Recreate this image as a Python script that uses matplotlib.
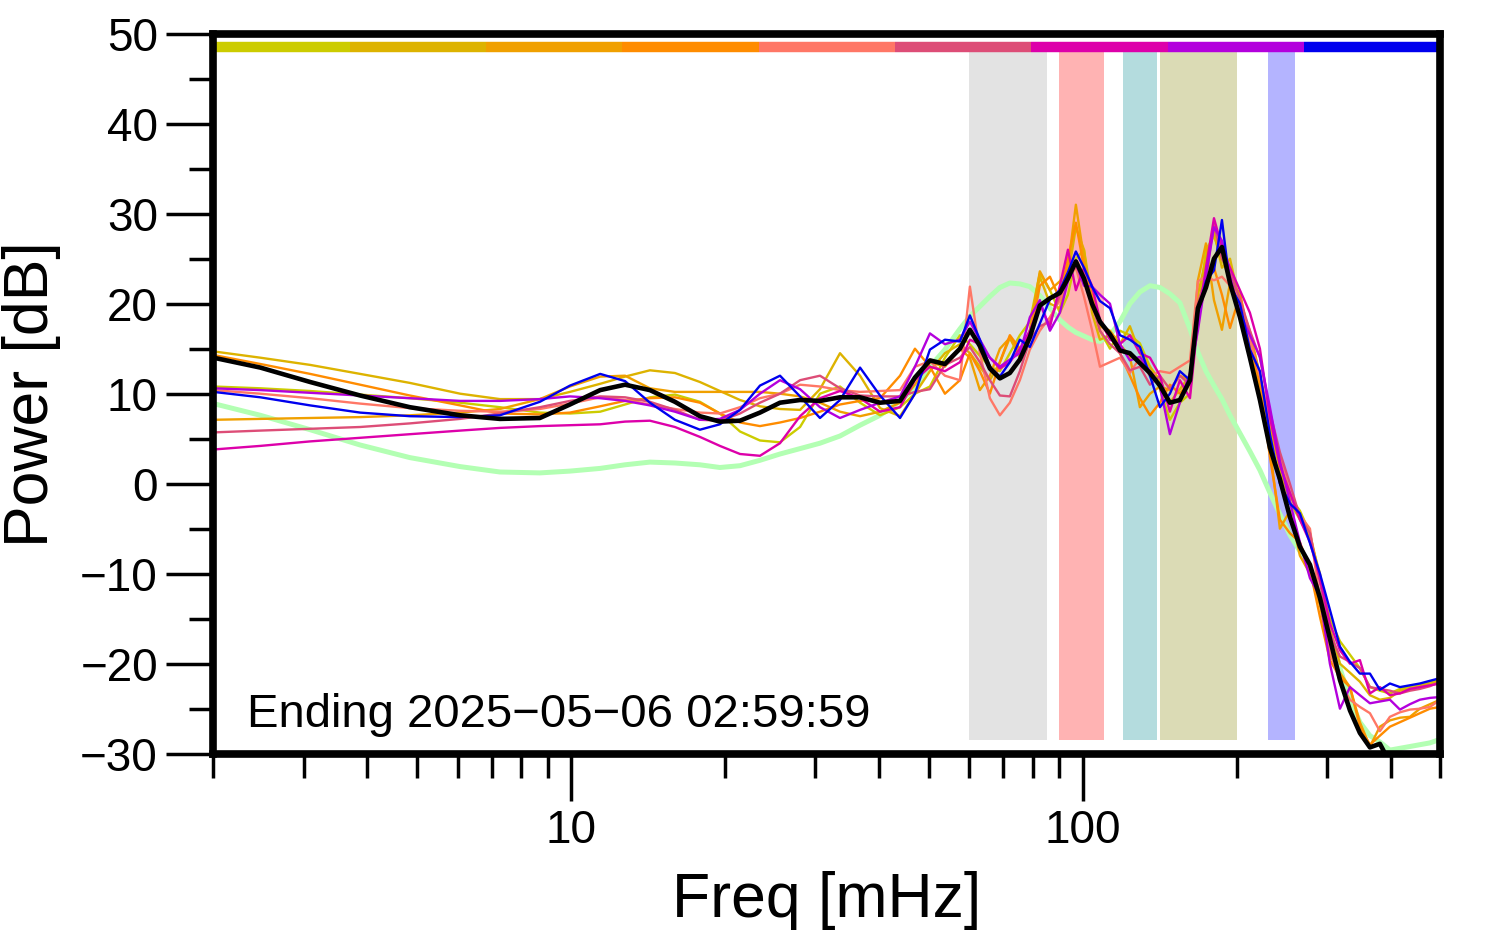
import matplotlib
matplotlib.use("Agg")
import matplotlib.pyplot as plt
from matplotlib.ticker import FixedLocator, FixedFormatter, NullFormatter, MultipleLocator

plt.rcParams['font.family'] = ['Liberation Sans', 'DejaVu Sans']

# ---------------- data ----------------
freq_mhz = [2.0, 2.47, 3.09, 3.87, 4.84, 6.07, 7.26, 8.69, 9.95, 11.4,
            12.75, 14.26, 15.96, 17.86, 19.54, 21.39, 23.4, 25.61, 28.03, 30.66,
            33.55, 36.72, 40.17, 43.96, 47.01, 50.29, 53.8, 57.56, 60.2, 62.97,
            65.87, 68.9, 72.06, 75.38, 78.86, 82.48, 86.31, 90.27, 93.6, 97.0,
            100.6, 104.3, 108.1, 113.1, 118.3, 123.7, 129.4, 135.4, 141.6, 148.1,
            154.9, 162.1, 168.0, 174.2, 180.6, 187.2, 194.1, 203.0, 212.3, 222.1,
            232.3, 243.0, 254.2, 265.9, 278.2, 291.0, 304.3, 318.4, 333.1, 348.3,
            364.4, 381.1, 398.7, 417.1, 436.3, 456.3, 477.4, 500.0]

period_colors = ['#cccc00', '#ddb300', '#f0a000', '#ff8c00', '#ff7766',
                 '#dd4d77', '#dd00aa', '#b300dd', '#0000ee']

power_p1 = [10.8, 10.6, 10.3, 9.9, 9.5, 9.0, 8.5, 7.9, 7.8, 8.0,
            8.8, 9.6, 9.9, 9.1, 7.8, 5.8, 4.8, 4.6, 6.3, 10.0,
            10.8, 9.0, 7.6, 8.5, 10.0, 10.8, 14.0, 16.5, 15.5, 14.2,
            13.0, 12.5, 14.5, 16.5, 18.0, 23.4, 21.5, 19.0, 21.0, 25.0,
            26.0, 20.5, 17.0, 15.0, 17.0, 16.5, 15.6, 13.0, 10.5, 7.1,
            9.0, 10.0, 18.5, 26.0, 27.5, 25.0, 22.6, 20.8, 15.2, 10.0,
            6.0, 2.0, -1.5, -3.0, -5.5, -10.5, -15.0, -17.5, -19.0, -20.5,
            -22.6, -23.0, -23.3, -22.8, -22.6, -22.4, -22.0, -21.8]
power_p2 = [14.7, 14.0, 13.2, 12.2, 11.2, 10.0, 9.4, 9.4, 10.2, 11.1,
            11.9, 12.6, 12.3, 11.3, 10.3, 9.3, 8.6, 8.3, 8.2, 10.5,
            14.5, 12.0, 8.4, 7.5, 10.0, 12.5, 14.5, 15.5, 14.5, 13.0,
            11.5, 13.5, 16.2, 14.0, 17.0, 23.0, 20.0, 19.5, 23.0, 28.5,
            26.0, 19.0, 16.0, 16.5, 15.5, 17.5, 14.5, 13.0, 11.5, 9.0,
            10.5, 12.0, 21.0, 25.0, 28.0, 24.0, 25.0, 20.0, 17.0, 12.0,
            6.5, 1.5, -2.0, -4.0, -6.0, -10.0, -16.0, -20.0, -21.0, -22.0,
            -23.5, -24.0, -23.8, -23.0, -22.8, -22.5, -22.2, -21.9]
power_p3 = [7.1, 7.2, 7.3, 7.4, 7.6, 7.9, 8.3, 9.4, 10.8, 11.9,
            12.0, 10.6, 10.2, 10.2, 10.2, 10.2, 10.2, 10.0, 9.7, 9.0,
            8.0, 7.5, 8.0, 9.0, 11.0, 13.5, 13.0, 15.0, 14.0, 10.4,
            12.0, 15.0, 16.2, 14.5, 17.0, 23.6, 21.5, 22.5, 24.0, 31.0,
            25.0, 19.7, 17.5, 17.0, 15.5, 14.1, 8.5, 10.0, 10.8, 10.4,
            12.0, 11.5, 22.6, 26.7, 20.4, 17.1, 22.3, 21.2, 16.0, 12.3,
            4.0, -5.0, -3.0, -8.0, -10.0, -13.5, -19.0, -21.0, -22.6, -26.5,
            -29.2, -27.0, -26.3, -26.0, -25.9, -25.0, -24.5, -24.0]
power_p4 = [14.3, 13.3, 12.2, 11.0, 9.8, 8.7, 7.8, 7.7, 7.9, 8.6,
            9.2, 9.5, 9.6, 9.0, 7.8, 6.8, 6.4, 6.8, 7.3, 8.0,
            8.8, 9.2, 9.5, 12.0, 15.0, 13.0, 10.0, 11.5, 14.5, 12.5,
            10.0, 13.5, 16.5, 15.0, 16.0, 22.0, 23.0, 20.5, 25.0, 29.0,
            24.0, 21.0, 18.0, 16.5, 14.5, 12.0, 9.5, 7.6, 9.0, 11.0,
            10.0, 11.5, 20.0, 22.0, 24.0, 21.0, 17.3, 21.0, 15.5, 11.0,
            3.0, -4.0, -5.5, -6.5, -9.5, -14.8, -19.6, -21.5, -22.6, -27.0,
            -29.0, -28.0, -27.0, -26.5, -26.0, -25.5, -25.0, -24.8]
power_p5 = [10.4, 10.0, 9.5, 8.9, 8.4, 8.1, 8.0, 8.3, 8.9, 9.6,
            9.3, 8.8, 8.3, 7.9, 7.8, 8.5, 9.5, 10.0, 11.0, 10.8,
            10.4, 10.2, 10.3, 10.4, 13.0, 13.6, 12.0, 11.5, 21.9, 14.5,
            9.5, 7.6, 9.0, 11.5, 14.9, 17.0, 18.5, 20.4, 23.0, 24.0,
            20.8, 17.1, 13.0, 13.5, 14.0, 12.3, 14.0, 11.9, 12.5, 12.3,
            13.0, 13.7, 22.5, 23.0, 22.6, 23.0, 22.0, 20.5, 16.0, 12.0,
            7.0, 3.0, -1.0, -3.5, -5.0, -13.0, -18.5, -22.0, -24.0, -24.8,
            -25.5, -27.5, -25.9, -25.4, -25.1, -25.0, -24.8, -24.0]
power_p6 = [5.7, 5.9, 6.1, 6.3, 6.7, 7.2, 7.8, 8.5, 9.2, 9.7,
            9.6, 9.1, 8.2, 7.1, 7.0, 7.8, 9.0, 10.0, 11.5, 12.0,
            10.6, 9.8, 9.7, 9.7, 10.2, 10.5, 13.2, 14.0, 15.2, 13.5,
            11.5, 9.8, 9.7, 12.5, 16.0, 17.5, 18.0, 21.0, 23.4, 24.0,
            23.5, 20.0, 17.0, 15.5, 14.5, 12.6, 13.0, 11.0, 12.0, 10.5,
            12.0, 11.0, 20.0, 23.0, 28.9, 25.0, 23.5, 20.5, 17.0, 14.0,
            8.0, 3.5, 0.0, -3.7, -5.5, -11.0, -16.6, -19.2, -19.8, -20.5,
            -22.6, -22.8, -23.0, -23.3, -23.0, -22.8, -22.5, -22.0]
power_p7 = [3.8, 4.2, 4.7, 5.1, 5.5, 5.9, 6.2, 6.4, 6.5, 6.6,
            6.9, 7.0, 6.3, 5.2, 4.2, 3.3, 3.1, 4.5, 7.5, 9.5,
            10.3, 9.5, 8.0, 8.5, 11.5, 13.0, 12.5, 13.5, 16.0, 15.5,
            14.0, 12.8, 13.5, 15.0, 17.0, 20.0, 17.4, 22.0, 26.0, 21.5,
            24.0, 22.0, 18.2, 16.0, 15.5, 16.5, 14.5, 14.0, 12.0, 8.0,
            11.5, 9.5, 18.0, 24.0, 29.5, 26.3, 24.0, 21.5, 19.0, 15.0,
            7.4, 2.0, -1.0, -4.0, -6.5, -10.5, -15.5, -18.5, -20.0, -19.6,
            -23.3, -22.6, -23.5, -23.3, -22.8, -22.6, -22.4, -22.2]
power_p8 = [10.6, 10.4, 10.1, 9.8, 9.5, 9.2, 9.2, 9.4, 9.7, 9.5,
            9.2, 8.7, 8.0, 7.1, 7.2, 8.2, 10.0, 11.5, 10.5, 8.5,
            7.3, 8.2, 9.0, 9.7, 13.0, 16.7, 15.5, 16.0, 18.0, 16.0,
            14.0, 13.0, 13.8, 14.5, 18.5, 20.4, 17.0, 19.0, 22.5, 24.5,
            22.0, 21.9, 21.0, 20.0, 15.5, 13.7, 14.1, 12.5, 10.8, 5.5,
            9.0, 12.3, 17.0, 23.0, 28.5, 27.0, 23.0, 19.0, 16.5, 14.1,
            8.5, 2.5, -2.0, -6.5, -10.5, -12.5, -20.0, -25.0, -22.6, -23.5,
            -24.4, -24.2, -24.0, -25.1, -24.5, -24.0, -23.8, -23.7]
power_p9 = [10.2, 9.6, 8.7, 7.9, 7.5, 7.4, 7.6, 9.1, 10.9, 12.2,
            11.4, 9.0, 7.1, 6.0, 6.6, 8.2, 10.9, 12.0, 9.7, 7.3,
            9.3, 12.9, 9.8, 7.3, 10.0, 14.9, 16.0, 15.8, 18.7, 16.0,
            13.0, 11.9, 13.5, 16.0, 15.2, 17.8, 20.5, 21.5, 23.5, 25.8,
            24.0, 21.9, 20.3, 19.5, 16.5, 16.0, 15.2, 12.0, 8.5, 10.0,
            12.5, 11.5, 19.0, 22.5, 23.7, 29.3, 22.0, 20.0, 14.9, 12.5,
            5.5, 0.0, -2.2, -3.3, -6.6, -10.0, -14.0, -18.1, -19.8, -21.1,
            -21.1, -22.9, -22.2, -22.6, -22.4, -22.2, -21.9, -21.6]

power_mean = [14.0, 12.9, 11.3, 9.8, 8.5, 7.6, 7.2, 7.3, 8.8, 10.4,
              11.0, 10.4, 9.1, 7.5, 6.9, 7.0, 7.9, 9.0, 9.3, 9.2,
              9.6, 9.6, 9.0, 9.2, 11.8, 13.7, 13.3, 15.0, 17.1, 15.3,
              12.8, 11.7, 12.3, 13.8, 16.3, 19.8, 20.6, 21.2, 22.8, 24.7,
              22.8, 20.0, 18.0, 16.6, 14.8, 14.5, 13.4, 12.3, 10.9, 9.0,
              9.3, 11.5, 19.5, 21.8, 25.0, 26.3, 22.3, 18.5, 14.0, 9.3,
              4.0, 0.5, -3.7, -7.0, -9.0, -12.7, -17.2, -21.8, -25.2, -27.7,
              -29.3, -28.9, -31.0, -31.5, -31.5, -31.5, -31.5, -31.5]

power_reference = [8.9, 7.6, 6.0, 4.3, 2.9, 1.9, 1.3, 1.2, 1.4, 1.7,
                   2.1, 2.4, 2.3, 2.1, 1.8, 2.0, 2.6, 3.3, 3.9, 4.5,
                   5.3, 6.5, 7.6, 9.2, 10.6, 13.0, 14.9, 17.2, 18.6, 19.7,
                   20.8, 21.8, 22.3, 22.2, 21.9, 20.9, 19.5, 18.2, 17.4, 16.8,
                   16.4, 16.0, 15.8, 16.5, 18.0, 20.0, 21.3, 22.0, 21.8, 21.1,
                   20.1, 17.2, 14.6, 12.5, 10.9, 9.4, 7.6, 5.6, 3.6, 1.5,
                   -1.0, -3.4, -5.7, -7.5, -9.5, -12.5, -16.5, -20.5, -24.0, -26.5,
                   -28.0, -28.7, -29.6, -29.4, -29.2, -29.0, -28.8, -28.4]

band_ranges_mhz = [(60, 85), (90, 110), (120, 140), (141.5, 200), (230, 260)]
band_colors = ['#e3e3e3', '#ffb3b3', '#b4dcde', '#dbdbb5', '#b4b4ff']

x_major_ticks = [10, 100]
x_major_labels = ['10', '100']
x_minor_ticks = [2, 3, 4, 5, 6, 7, 8, 9, 20, 30, 40, 50, 60, 70, 80, 90,
                 200, 300, 400, 500]

ending_text = 'Ending 2025\u221205\u221206 02:59:59'

# ---------------- figure ----------------
fig = plt.figure(figsize=(14.94, 9.52), dpi=100)
ax = fig.add_axes([0.1429, 0.2083, 0.8211, 0.7563])
ax.set_xscale('log')
ax.set_xlim(2, 500)
ax.set_ylim(-30, 50)

band_bottom, band_top = -28.5, 48.4
for (lo, hi), c in zip(band_ranges_mhz, band_colors):
    ax.fill_between([lo, hi], band_bottom, band_top, color=c, lw=0, zorder=1)

ax.plot(freq_mhz, power_reference, color='#b3ffb3', lw=3.6, zorder=2,
        solid_joinstyle='round', solid_capstyle='round')

series = [power_p1, power_p2, power_p3, power_p4, power_p5,
          power_p6, power_p7, power_p8, power_p9]
for vals, c in zip(series, period_colors):
    ax.plot(freq_mhz, vals, color=c, lw=1.7, zorder=3,
            solid_joinstyle='round')

ax.plot(freq_mhz, power_mean, color='black', lw=3.3, zorder=4,
        solid_joinstyle='round')

# top colour bar (one segment per period, equal widths across the axis)
nseg = len(period_colors)
for k, c in enumerate(period_colors):
    ax.plot([k / nseg, (k + 1) / nseg], [0.981, 0.981], color=c, lw=7.5,
            solid_capstyle='butt', transform=ax.transAxes, zorder=5,
            clip_on=False)

ax.text(0.027, 0.037, ending_text, transform=ax.transAxes, fontsize=34,
        ha='left', va='baseline', zorder=6)

# axes styling
for sp in ax.spines.values():
    sp.set_linewidth(5.5)
    sp.set_zorder(10)

ax.xaxis.set_major_locator(FixedLocator(x_major_ticks))
ax.xaxis.set_major_formatter(FixedFormatter(x_major_labels))
ax.xaxis.set_minor_locator(FixedLocator(x_minor_ticks))
ax.xaxis.set_minor_formatter(NullFormatter())
ax.yaxis.set_major_locator(MultipleLocator(10))
ax.yaxis.set_minor_locator(MultipleLocator(5))

ax.tick_params(which='major', direction='out', length=34, width=2.5,
               labelsize=33, pad=6)
ax.tick_params(which='minor', direction='out', length=17.5, width=2.5)

ax.set_xlabel('Freq [mHz]', fontsize=45)
ax.set_ylabel('Power [dB]', fontsize=45)
ax.xaxis.set_label_coords(0.5, -0.163)
ax.yaxis.set_label_coords(-0.124, 0.5)

fig.savefig('out.png', dpi=100)
